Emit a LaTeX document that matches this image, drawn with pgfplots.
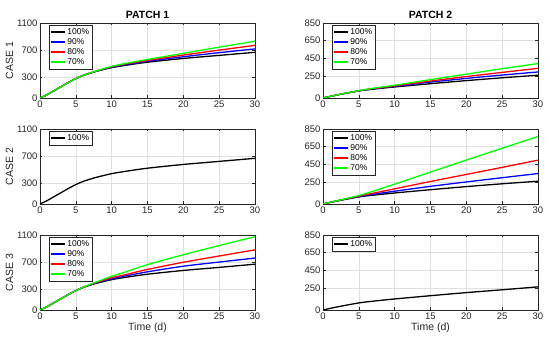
\documentclass[border=0pt]{standalone}
\usepackage{pgfplots}
\pgfplotsset{compat=1.18}
\usepackage{fontspec}
\setmainfont{Liberation Sans}
\definecolor{axc}{RGB}{38,38,38}
\definecolor{gridc}{RGB}{223,223,223}
\definecolor{mgreen}{RGB}{0,255,0}
\pgfplotsset{
  panel/.style={
    scale only axis, width=215pt, height=75pt, anchor=south west,
    xmin=0, xmax=30, xtick={0,5,...,30},
    grid=major, major grid style={gridc, line width=0.4pt},
    axis line style={axc, line width=0.5pt},
    tick style={axc, line width=0.5pt}, tick align=inside,
    major tick length=2.5pt,
    every tick label/.style={font=\fontsize{9.5}{10}\selectfont, color=axc},
    /pgf/number format/assume math mode=true,
    /pgf/number format/1000 sep={},
    xticklabel style={yshift=1pt},
    yticklabel style={xshift=1pt},
    ylabel style={font=\fontsize{10.5}{11}\selectfont, color=axc, yshift=-3pt},
    xlabel style={font=\fontsize{10.5}{11}\selectfont, color=axc, yshift=3pt},
    title style={font=\bfseries\fontsize{10.5}{11}\selectfont, yshift=-5pt},
    legend style={font=\fontsize{8.5}{9}\selectfont, at={(0.04,0.975)}, anchor=north west,
      draw=axc, line width=0.4pt, inner xsep=1pt, inner ysep=1.5pt, row sep=-1.5pt,
      cells={anchor=west}},
    legend image code/.code={\draw[mark repeat=2,mark phase=2,#1] plot coordinates {(0pt,0pt)(7pt,0pt)(14pt,0pt)};},
    legend image post style={line width=1.6pt},
    every axis plot/.append style={line width=1.3pt, smooth, no marks},
  },
  p1/.style={panel, ymin=0, ymax=1100, ytick={0,300,700,1100}},
  p2/.style={panel, ymin=0, ymax=850, ytick={0,250,450,650,850}},
}
\begin{document}
\begin{tikzpicture}
\useasboundingbox (0,0) rectangle (550pt,339pt);
% ---------- Row 1 ----------
\begin{axis}[p1, at={(40pt,241pt)}, title={PATCH 1}, ylabel={CASE 1}]
\addplot[black] coordinates {(0,0)(1,50)(2,110)(3,170)(4,230)(5,285)(6,330)(7,365)(8,395)(10,445)(12,480)(15,525)(20,580)(25,625)(30,670)};
\addplot[blue] coordinates {(0,0)(1,50)(2,110)(3,170)(4,230)(5,285)(6,330)(7,365)(8,397)(10,452)(12,490)(15,538)(20,605)(25,665)(30,720)};
\addplot[red] coordinates {(0,0)(1,50)(2,110)(3,170)(4,230)(5,285)(6,330)(7,366)(8,399)(10,458)(12,500)(15,550)(20,630)(25,702)(30,772)};
\addplot[mgreen] coordinates {(0,0)(1,50)(2,110)(3,170)(4,230)(5,285)(6,330)(7,367)(8,401)(10,463)(12,508)(15,565)(20,655)(25,745)(30,832)};
\legend{100\%,90\%,80\%,70\%}
\end{axis}
\begin{axis}[p2, at={(323pt,241pt)}, title={PATCH 2}]
\addplot[black] coordinates {(0,0)(2,35)(5,80)(7,100)(10,125)(15,162)(20,197)(25,229)(30,258)};
\addplot[blue] coordinates {(0,0)(2,35)(5,81)(7,104)(10,133)(15,180)(20,222)(25,260)(30,295)};
\addplot[red] coordinates {(0,0)(2,35)(5,82)(7,107)(10,138)(15,192)(20,243)(25,290)(30,336)};
\addplot[mgreen] coordinates {(0,0)(2,35)(5,83)(7,110)(10,145)(15,208)(20,270)(25,332)(30,390)};
\legend{100\%,90\%,80\%,70\%}
\end{axis}
% ---------- Row 2 ----------
\begin{axis}[p1, at={(40pt,135pt)}, ylabel={CASE 2}]
\addplot[black] coordinates {(0,0)(1,50)(2,110)(3,170)(4,230)(5,285)(6,330)(7,365)(8,395)(10,445)(12,480)(15,525)(20,580)(25,625)(30,670)};
\legend{100\%}
\end{axis}
\begin{axis}[p2, at={(323pt,135pt)}]
\addplot[black] coordinates {(0,0)(2,35)(5,80)(7,100)(10,125)(15,162)(20,197)(25,229)(30,258)};
\addplot[blue] coordinates {(0,0)(2,36)(5,84)(7,110)(10,145)(15,200)(20,250)(25,298)(30,345)};
\addplot[red] coordinates {(0,0)(2,37)(5,89)(7,122)(10,172)(15,255)(20,335)(25,415)(30,497)};
\addplot[mgreen] coordinates {(0,0)(2,38)(5,96)(7,145)(10,225)(15,362)(20,498)(25,632)(30,765)};
\legend{100\%,90\%,80\%,70\%}
\end{axis}
% ---------- Row 3 ----------
\begin{axis}[p1, at={(40pt,29pt)}, ylabel={CASE 3}, xlabel={Time (d)}]
\addplot[black] coordinates {(0,0)(1,50)(2,110)(3,170)(4,230)(5,285)(6,330)(7,365)(8,395)(10,445)(12,480)(15,525)(20,580)(25,625)(30,672)};
\addplot[blue] coordinates {(0,0)(1,50)(2,110)(3,170)(4,230)(5,285)(6,331)(7,368)(8,402)(10,458)(12,500)(15,560)(20,642)(25,703)(30,762)};
\addplot[red] coordinates {(0,0)(1,50)(2,110)(3,170)(4,230)(5,285)(6,332)(7,372)(8,408)(10,472)(12,520)(15,595)(20,700)(25,792)(30,882)};
\addplot[mgreen] coordinates {(0,0)(1,50)(2,110)(3,170)(4,230)(5,285)(6,333)(7,376)(8,416)(10,495)(12,560)(15,665)(20,810)(25,945)(30,1075)};
\legend{100\%,90\%,80\%,70\%}
\end{axis}
\begin{axis}[p2, at={(323pt,29pt)}, xlabel={Time (d)}]
\addplot[black] coordinates {(0,0)(2,35)(5,80)(7,100)(10,125)(15,162)(20,197)(25,229)(30,262)};
\legend{100\%}
\end{axis}
\end{tikzpicture}
\end{document}
